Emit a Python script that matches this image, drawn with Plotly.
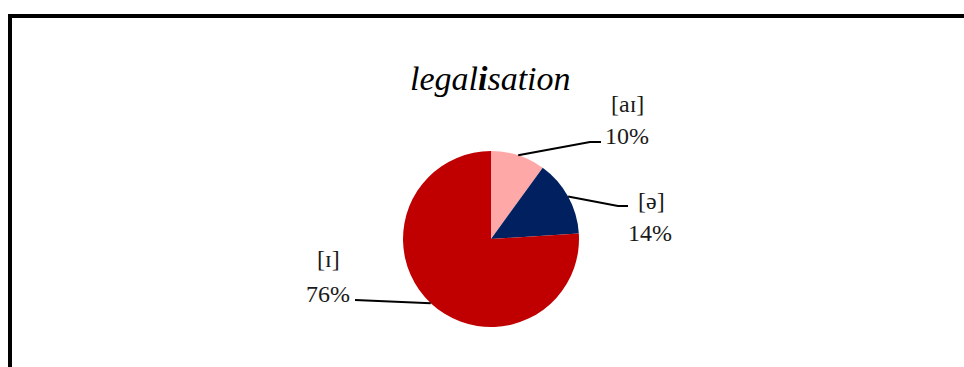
import math
import plotly.graph_objects as go

W, H = 964, 367

categories = ["[aɪ]", "[ə]", "[ɪ]"]
values = [10, 14, 76]
pct_labels = ["10%", "14%", "76%"]
colors = ["#FFA8A8", "#002060", "#C00000"]

# pie geometry (pixels)
cx, cy, r = 491, 239, 88

def px(x):
    return x / W

def py(y):
    return 1 - y / H

fig = go.Figure(go.Pie(
    labels=categories, values=values, sort=False, direction="clockwise",
    rotation=0, textinfo="none", hoverinfo="label+percent",
    marker=dict(colors=colors, line=dict(width=0)),
    domain=dict(x=[px(cx - r), px(cx + r)], y=[py(cy + r), py(cy - r)]),
    showlegend=False,
))

# leader line ends and label positions (pixels)
elbows = [((590, 142), (601, 142)), ((618, 206), (628, 206)), ((355, 300), (355, 300))]
name_pos = [(627, 104), (651, 201), (328, 259)]
pct_pos = [(627, 136), (650, 233), (328, 294)]

shapes = []
total = sum(values)
acc = 0
for i, v in enumerate(values):
    mid = (acc + v / 2) / total * 2 * math.pi
    acc += v
    sx = cx + r * math.sin(mid)
    sy = cy - r * math.cos(mid)
    (ex, ey), (fx, fy) = elbows[i]
    path = f"M {px(sx)},{py(sy)} L {px(ex)},{py(ey)} L {px(fx)},{py(fy)}"
    shapes.append(dict(type="path", xref="paper", yref="paper", path=path,
                       line=dict(color="black", width=2)))

# frame lines (top and left)
shapes.append(dict(type="line", xref="paper", yref="paper",
                   x0=px(8), x1=px(W + 2), y0=py(16), y1=py(16),
                   line=dict(color="black", width=4)))
shapes.append(dict(type="line", xref="paper", yref="paper",
                   x0=px(10), x1=px(10), y0=py(14), y1=py(H + 2),
                   line=dict(color="black", width=4)))

annotations = []
font = dict(family="Liberation Serif, DejaVu Serif, serif", size=24, color="#1a1a1a")
for i in range(len(categories)):
    annotations.append(dict(x=px(name_pos[i][0]), y=py(name_pos[i][1]), xref="paper", yref="paper",
                            text=categories[i], showarrow=False, font=font,
                            xanchor="center", yanchor="middle"))
    annotations.append(dict(x=px(pct_pos[i][0]), y=py(pct_pos[i][1]), xref="paper", yref="paper",
                            text=pct_labels[i], showarrow=False, font=font,
                            xanchor="center", yanchor="middle"))

annotations.append(dict(x=px(491), y=py(78), xref="paper", yref="paper",
                        text="legal<b>i</b>sation", showarrow=False,
                        font=dict(family="Liberation Serif, DejaVu Serif, serif", size=34,
                                  color="black", style="italic"),
                        xanchor="center", yanchor="middle"))

fig.update_layout(
    width=W, height=H, margin=dict(l=0, r=0, t=0, b=0),
    paper_bgcolor="white", plot_bgcolor="white",
    shapes=shapes, annotations=annotations,
)

fig.write_html("out.html", config={"displayModeBar": False},
               post_script="document.body.style.margin='0px';document.body.style.overflow='hidden';")
